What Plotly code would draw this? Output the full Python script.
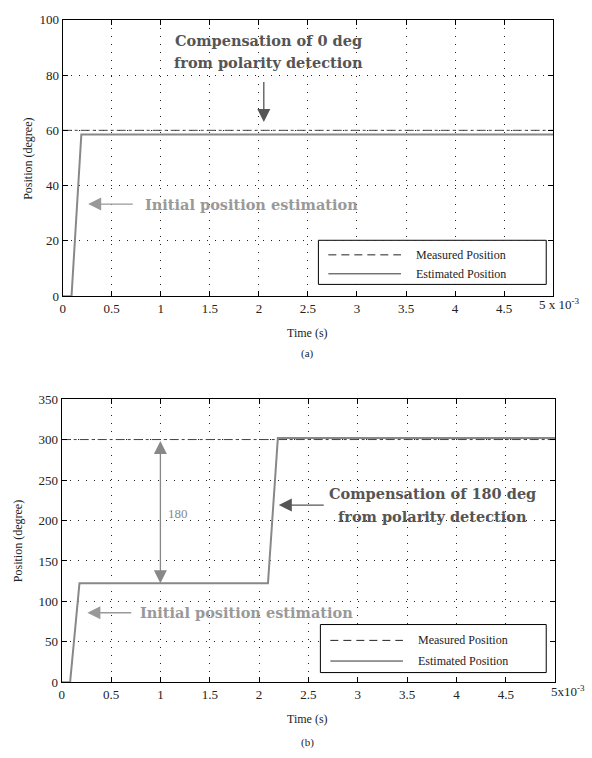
import plotly.graph_objects as go

# ---------------- data ----------------
# (a)
t_meas_a = [0.0, 0.005]
pos_meas_a = [60, 60]
t_est_a = [0.0, 0.00009, 0.00019, 0.005]
pos_est_a = [0, 0, 58.5, 58.5]
# (b)
t_meas_b = [0.0, 0.005]
pos_meas_b = [300, 300]
t_est_b = [0.0, 0.000085, 0.00018, 0.00209, 0.00219, 0.005]
pos_est_b = [0, 0, 122.5, 122.5, 302, 302]

x_tickvals = [0, 0.0005, 0.001, 0.0015, 0.002, 0.0025, 0.003, 0.0035, 0.004, 0.0045, 0.005]
x_ticktext = ["0", "0.5", "1", "1.5", "2", "2.5", "3", "3.5", "4", "4.5", ""]
y_ticks_a = [0, 20, 40, 60, 80, 100]
y_ticks_b = [0, 50, 100, 150, 200, 250, 300, 350]

W, H = 592, 758
FONT = "Liberation Serif"
AFONT = "DejaVu Serif"

fig = go.Figure()
fig.add_trace(go.Scatter(x=t_meas_a, y=pos_meas_a, mode="lines", name="Measured Position",
                         line=dict(color="#444", width=1, dash="dashdot"), xaxis="x", yaxis="y"))
fig.add_trace(go.Scatter(x=t_est_a, y=pos_est_a, mode="lines", name="Estimated Position",
                         line=dict(color="#888", width=2), xaxis="x", yaxis="y"))
fig.add_trace(go.Scatter(x=t_meas_b, y=pos_meas_b, mode="lines", name="Measured Position",
                         line=dict(color="#444", width=1, dash="dashdot"), xaxis="x2", yaxis="y2"))
fig.add_trace(go.Scatter(x=t_est_b, y=pos_est_b, mode="lines", name="Estimated Position",
                         line=dict(color="#888", width=2), xaxis="x2", yaxis="y2"))


def px_x(p):
    return p / W


def px_y(p):
    return 1 - p / H


axis_common = dict(showline=True, linecolor="black", linewidth=1, mirror="ticks",
                   ticks="inside", ticklen=5, tickcolor="black",
                   showgrid=True, gridcolor="#222", griddash="1px,7px", gridwidth=1,
                   zeroline=False, tickfont=dict(family=FONT, size=13, color="#222"))

fig.update_layout(
    width=W, height=H, margin=dict(l=0, r=0, t=0, b=0),
    paper_bgcolor="white", plot_bgcolor="white", showlegend=False,
    xaxis=dict(domain=[px_x(60), px_x(553)], range=[0, 0.005], anchor="y",
               tickvals=x_tickvals, ticktext=x_ticktext, **axis_common),
    yaxis=dict(domain=[px_y(295), px_y(13)], range=[0, 100], anchor="x",
               tickvals=y_ticks_a, **axis_common),
    xaxis2=dict(domain=[px_x(59), px_x(555)], range=[0, 0.005], anchor="y2",
                tickvals=x_tickvals, ticktext=x_ticktext, **axis_common),
    yaxis2=dict(domain=[px_y(689), px_y(400)], range=[0, 350], anchor="x2",
                tickvals=y_ticks_b, **axis_common),
)

ann = []


def text(x, y, s, size=12, color="#222", xref="paper", yref="paper", bold=False, family=FONT,
         xanchor="center", **kw):
    if bold:
        s = "<b>" + s + "</b>"
    ann.append(dict(x=x, y=y, xref=xref, yref=yref, text=s, showarrow=False,
                    xanchor=xanchor, yanchor="middle",
                    font=dict(family=family, size=size, color=color), **kw))


def arrow(x, y, ax, ay, xref, yref, color, both=False, size=2.0):
    ann.append(dict(x=x, y=y, ax=ax, ay=ay, xref=xref, yref=yref, axref=xref, ayref=yref,
                    text="", showarrow=True, arrowhead=2, arrowsize=size, arrowwidth=1.3,
                    arrowcolor=color, arrowside="end+start" if both else "end", standoff=0,
                    startstandoff=0))


# axis titles / captions
text(px_x(306), px_y(333), "Time (s)", 12)
text(px_x(306), px_y(354), "(a)", 11)
text(px_x(306), px_y(726), "Time (s)", 12)
text(px_x(306), px_y(750), "(b)", 11)
text(px_x(25), px_y(155), "Position (degree)", 12, textangle=-90)
text(px_x(15), px_y(545), "Position (degree)", 12, textangle=-90)
text(px_x(582), px_y(303), "5 x 10<sup>-3</sup>", 13, xanchor="right")
text(px_x(587), px_y(698), "5x10<sup>-3</sup>", 13, xanchor="right")

# (a) annotations
text(0.0021, 92.6, "Compensation of 0 deg", 14.5, "#555", "x", "y", bold=True, family=AFONT)
text(0.0021, 84.4, "from polarity detection", 14.5, "#555", "x", "y", bold=True, family=AFONT)
arrow(0.00205, 63, 0.00205, 78, "x", "y", "#555")
text(0.00192, 33.3, "Initial position estimation", 14.5, "#999", "x", "y", bold=True, family=AFONT)
arrow(0.00026, 33.3, 0.00073, 33.3, "x", "y", "#999")

# (b) annotations
text(0.00376, 233.5, "Compensation of 180 deg", 14.5, "#555", "x2", "y2", bold=True, family=AFONT)
text(0.00376, 205.5, "from polarity detection", 14.5, "#555", "x2", "y2", bold=True, family=AFONT)
arrow(0.0022, 219, 0.00267, 219, "x2", "y2", "#555")
text(0.001875, 86, "Initial position estimation", 14.5, "#999", "x2", "y2", bold=True, family=AFONT)
arrow(0.00026, 86, 0.00072, 86, "x2", "y2", "#999")
arrow(0.001, 122.5, 0.001, 300, "x2", "y2", "#888", both=True)
text(0.00118, 209, "180", 13, "#888", "x2", "y2")

# manual legends
shapes = []
for (top, bot, left, right) in [(238, 283, 317, 546), (630, 679, 319, 546)]:
    shapes.append(dict(type="rect", xref="paper", yref="paper",
                       x0=px_x(left), x1=px_x(right), y0=px_y(bot), y1=px_y(top),
                       line=dict(color="black", width=1), fillcolor="white", layer="above"))
    r1 = top + (bot - top) * 0.33
    r2 = top + (bot - top) * 0.76
    shapes.append(dict(type="line", xref="paper", yref="paper", x0=px_x(left + 10), x1=px_x(left + 83),
                       y0=px_y(r1), y1=px_y(r1), line=dict(color="#222", width=1, dash="8px,5px"),
                       layer="above"))
    shapes.append(dict(type="line", xref="paper", yref="paper", x0=px_x(left + 10), x1=px_x(left + 83),
                       y0=px_y(r2), y1=px_y(r2), line=dict(color="#333", width=1), layer="above"))
    text(px_x(left + 96), px_y(r1), "Measured Position", 12, xanchor="left")
    text(px_x(left + 96), px_y(r2), "Estimated Position", 12, xanchor="left")

fig.update_layout(annotations=ann, shapes=shapes)

post = """
document.documentElement.style.margin='0px';
document.documentElement.style.overflow='hidden';
document.body.style.margin='0px';
document.body.style.overflow='hidden';
var gd = document.getElementsByClassName('plotly-graph-div')[0];
gd.style.position='fixed'; gd.style.left='0px'; gd.style.top='0px';
"""
fig.write_html("out.html", config={"displayModeBar": False}, post_script=post)
